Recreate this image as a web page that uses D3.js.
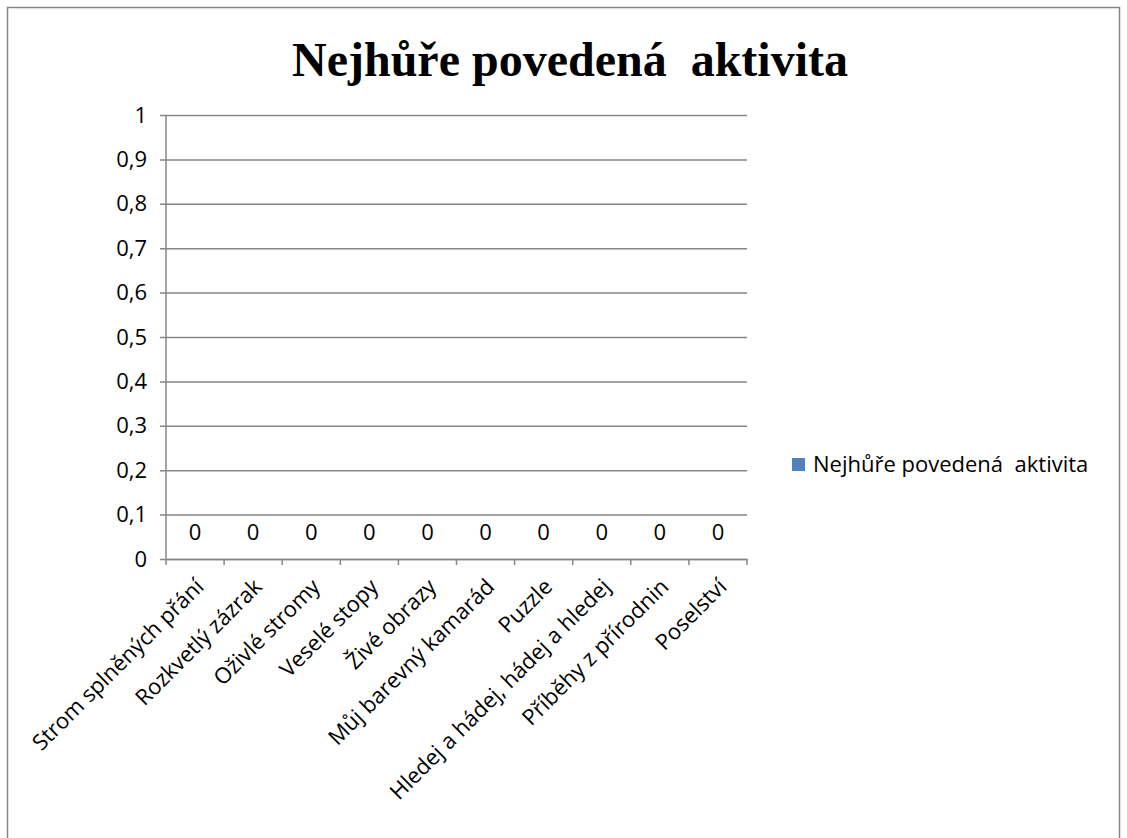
<!DOCTYPE html>
<html>
<head>
<meta charset="utf-8">
<script src="https://cdnjs.cloudflare.com/ajax/libs/d3/7.8.5/d3.min.js"></script>
<style>
  body { margin: 0; background: #fff; }
  text { white-space: pre; }
</style>
</head>
<body>
<svg id="chart" width="1127" height="838"></svg>
<script>
// Chart data
var categories = ["Strom splněných přání", "Rozkvetlý zázrak", "Oživlé stromy", "Veselé stopy",
    "Živé obrazy", "Můj barevný kamarád", "Puzzle", "Hledej a hádej, hádej a hledej",
    "Příběhy z přírodnin", "Poselství"];
var values = [0, 0, 0, 0, 0, 0, 0, 0, 0, 0];
var yTicks = [0, 0.1, 0.2, 0.3, 0.4, 0.5, 0.6, 0.7, 0.8, 0.9, 1];
var seriesName = "Nejhůře povedená  aktivita";
var chartTitle = "Nejhůře povedená  aktivita";

var svg = d3.select("#chart"),
    margin = { top: 115, left: 166, right: 380, bottom: 279 },
    width = +svg.attr("width") - margin.left - margin.right,
    height = +svg.attr("height") - margin.top - margin.bottom,
    g = svg.append("g").attr("transform", "translate(" + margin.left + "," + margin.top + ")");

var font = "'Open Sans', Lato, sans-serif";
var fontSize = 22;

// Outer frame
svg.append("rect")
    .attr("x", 7.5).attr("y", 7.5)
    .attr("width", 1112).attr("height", 840)
    .attr("fill", "none").attr("stroke", "#868686").attr("stroke-width", 1.5);

// Title
svg.append("text")
    .attr("x", 570).attr("y", 76)
    .attr("text-anchor", "middle")
    .attr("font-family", "'Liberation Serif', 'Times New Roman', serif")
    .attr("font-weight", "bold")
    .attr("font-size", 48)
    .attr("fill", "#000")
    .text(chartTitle);

var x = d3.scaleBand().domain(categories).range([0, width]);
var y = d3.scaleLinear().domain([0, 1]).range([height, 0]);

// Gridlines + y axis
var yAxis = g.append("g")
    .call(d3.axisLeft(y).tickValues(yTicks).tickSize(-width).tickPadding(19)
        .tickFormat(function (d) { return d3.format(".1~f")(d).replace(".", ","); }));
yAxis.select(".domain").remove();
yAxis.selectAll(".tick line").attr("stroke", "#868686").attr("stroke-width", 1.5).attr("x1", -6);
yAxis.selectAll(".tick text").attr("font-family", font).attr("font-size", fontSize).attr("fill", "#000");

g.append("line")
    .attr("x1", 0).attr("x2", 0).attr("y1", 0).attr("y2", height)
    .attr("stroke", "#868686").attr("stroke-width", 1.5);

// x axis
var xAxis = g.append("g")
    .attr("transform", "translate(0," + height + ")")
    .call(d3.axisBottom(x).tickSize(0).tickFormat(function (d) { return d; }));
xAxis.select(".domain").attr("stroke", "#868686").attr("stroke-width", 1.5);
xAxis.selectAll(".tick text")
    .attr("font-family", font).attr("font-size", fontSize).attr("fill", "#000")
    .attr("text-anchor", "end")
    .attr("dy", "0")
    .attr("transform", "translate(8,27) rotate(-45)");

// category separator ticks
g.append("g").selectAll("line")
    .data(d3.range(categories.length + 1))
    .enter().append("line")
    .attr("x1", function (i) { return i * x.step(); })
    .attr("x2", function (i) { return i * x.step(); })
    .attr("y1", height).attr("y2", height + 6)
    .attr("stroke", "#868686").attr("stroke-width", 1.5);

// Bars (all zero)
g.selectAll(".bar")
    .data(values)
    .enter().append("rect")
    .attr("class", "bar")
    .attr("x", function (d, i) { return x(categories[i]) + x.bandwidth() * 0.2; })
    .attr("width", x.bandwidth() * 0.6)
    .attr("y", function (d) { return y(d); })
    .attr("height", function (d) { return height - y(d); })
    .attr("fill", "#4F81BD");

// Data labels
g.selectAll(".lbl")
    .data(values)
    .enter().append("text")
    .attr("class", "lbl")
    .attr("x", function (d, i) { return x(categories[i]) + x.bandwidth() / 2; })
    .attr("y", function (d) { return y(d) - 19; })
    .attr("text-anchor", "middle")
    .attr("font-family", font).attr("font-size", fontSize).attr("fill", "#000")
    .text(function (d) { return d; });

// Legend
var legend = svg.append("g").attr("transform", "translate(792,458)");
legend.append("rect")
    .attr("width", 13).attr("height", 13)
    .attr("fill", "#4F81BD");
legend.append("text")
    .attr("x", 21).attr("y", 14)
    .attr("font-family", font).attr("font-size", fontSize).attr("fill", "#000")
    .text(seriesName);
</script>
</body>
</html>
